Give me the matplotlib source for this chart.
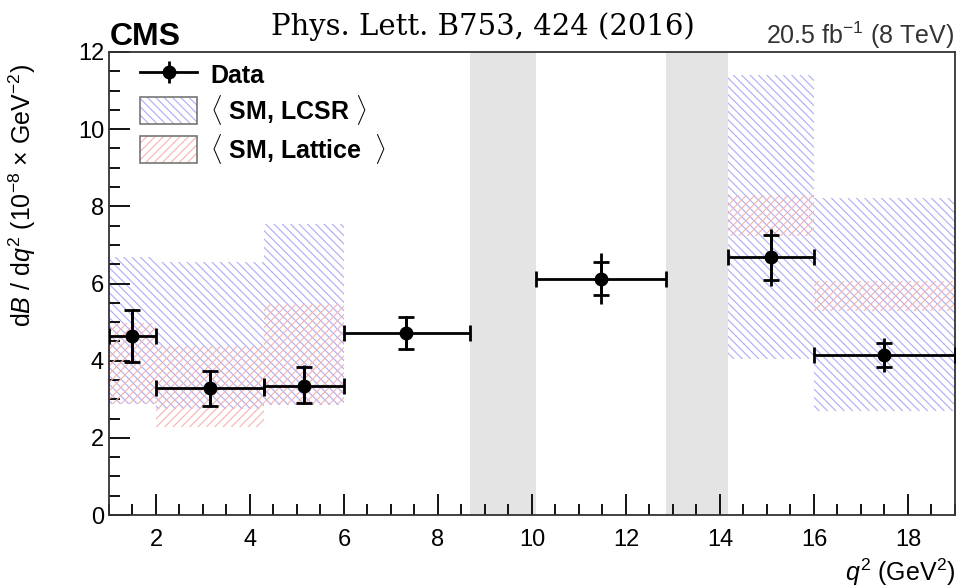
import matplotlib
matplotlib.use("Agg")
import matplotlib.pyplot as plt
from matplotlib.patches import Rectangle
from matplotlib.lines import Line2D
from matplotlib.ticker import MultipleLocator

plt.rcParams['font.family'] = ['Liberation Sans', 'DejaVu Sans']
plt.rcParams['mathtext.fontset'] = 'custom'
plt.rcParams['mathtext.rm'] = 'Liberation Sans'
plt.rcParams['mathtext.it'] = 'Liberation Sans:italic'
plt.rcParams['hatch.linewidth'] = 0.8

# Data: q^2 bins and measured dB/dq^2 (10^-8 GeV^-2)
bin_lo = [1.0, 2.0, 4.3, 6.0, 10.09, 14.18, 16.0]
bin_hi = [2.0, 4.3, 6.0, 8.68, 12.86, 16.0, 19.0]
q2_center = [1.50, 3.15, 5.14, 7.33, 11.47, 15.09, 17.49]
dbdq2 = [4.63, 3.29, 3.35, 4.71, 6.13, 6.68, 4.15]
stat_up = [0.68, 0.45, 0.50, 0.43, 0.43, 0.59, 0.31]
stat_dn = [0.67, 0.47, 0.45, 0.41, 0.43, 0.60, 0.30]
tot_up = [0.72, 0.48, 0.53, 0.46, 0.66, 0.74, 0.43]
tot_dn = [0.70, 0.50, 0.48, 0.44, 0.67, 0.74, 0.43]

# SM predictions (LCSR and lattice), min/max of band
sm_lo_edge = [1.0, 2.0, 4.3, 14.18, 16.0]
sm_hi_edge = [2.0, 4.3, 6.0, 16.0, 19.0]
lcsr_min = [2.88, 2.75, 2.84, 4.05, 2.71]
lcsr_max = [6.70, 6.55, 7.53, 11.41, 8.21]
latt_min = [2.89, 2.28, 2.84, 7.23, 5.29]
latt_max = [4.99, 4.39, 5.47, 8.30, 6.06]

# vetoed charmonium regions
veto_lo = [8.68, 12.86]
veto_hi = [10.09, 14.18]

blue_hatch = '#acacf6'
red_hatch = '#f6b2b2'

fig = plt.figure(figsize=(9.66, 5.88), dpi=100)
ax = fig.add_axes([0.1128, 0.124, 0.8758, 0.7876])

for lo, hi in zip(veto_lo, veto_hi):
    ax.axvspan(lo, hi, color='#e4e4e4', lw=0, zorder=0)

widths = [h - l for l, h in zip(sm_lo_edge, sm_hi_edge)]
ax.bar(sm_lo_edge, [b - a for a, b in zip(lcsr_min, lcsr_max)], width=widths,
       bottom=lcsr_min, align='edge', facecolor='none', edgecolor=blue_hatch,
       hatch='\\\\\\\\', lw=0, zorder=1)
ax.bar(sm_lo_edge, [b - a for a, b in zip(latt_min, latt_max)], width=widths,
       bottom=latt_min, align='edge', facecolor='none', edgecolor=red_hatch,
       hatch='////', lw=0, zorder=2)

xerr_lo = [c - l for c, l in zip(q2_center, bin_lo)]
xerr_hi = [h - c for c, h in zip(q2_center, bin_hi)]

# total uncertainty (no caps)
ax.errorbar(q2_center, dbdq2, yerr=[tot_dn, tot_up], fmt='none', ecolor='black',
            elinewidth=2, capsize=0, zorder=4)
# statistical uncertainty with caps
ax.errorbar(q2_center, dbdq2, yerr=[stat_dn, stat_up], fmt='none', ecolor='black',
            elinewidth=2, capsize=6, capthick=2, zorder=4)
# bin widths
ax.errorbar(q2_center, dbdq2, xerr=[xerr_lo, xerr_hi], fmt='o', color='black',
            markersize=9, elinewidth=2, capsize=6, capthick=2, zorder=5)

ax.set_xlim(1, 19)
ax.set_ylim(0, 12)
ax.xaxis.set_major_locator(MultipleLocator(2))
ax.xaxis.set_minor_locator(MultipleLocator(0.5))
ax.yaxis.set_major_locator(MultipleLocator(2))
ax.yaxis.set_minor_locator(MultipleLocator(0.5))
ax.tick_params(which='both', direction='in', labelsize=17, width=1.3)
ax.tick_params(which='major', length=15)
ax.tick_params(which='minor', length=8)
ax.tick_params(axis='x', pad=10)
for s in ax.spines.values():
    s.set_linewidth(1.3)
    s.set_color('#333333')

ax.set_ylabel(r"d$\mathit{B}$ / d$\mathit{q}^2$ (10$^{-8}$ $\times$ GeV$^{-2}$)", fontsize=18)
ax.yaxis.set_label_coords(-0.084, 0.69, transform=ax.transAxes)
ax.set_xlabel(r"$\mathit{q}^2$ (GeV$^2$)", fontsize=18, loc='right', labelpad=4)

fig.text(0.114, 0.923, "CMS", fontsize=23, fontweight='bold', ha='left', va='baseline')
fig.text(0.50, 0.940, "Phys. Lett. B753, 424 (2016)", fontsize=21,
         family=['DejaVu Serif'], ha='center', va='baseline')
fig.text(0.988, 0.925, r"20.5 fb$^{-1}$ (8 TeV)", fontsize=18, color='#333333',
         ha='right', va='baseline')

frame = dict(facecolor='none', edgecolor='#777777', lw=1.2)
h_data = (Line2D([], [], color='black', lw=2, marker='o', markersize=9),
          Line2D([], [], color='black', lw=0, marker='|', markersize=16, markeredgewidth=2))
h_lcsr = (Rectangle((0, 0), 1, 1, facecolor='none', edgecolor=blue_hatch, hatch='\\\\\\\\', lw=0),
          Rectangle((0, 0), 1, 1, **frame))
h_latt = (Rectangle((0, 0), 1, 1, facecolor='none', edgecolor=red_hatch, hatch='////', lw=0),
          Rectangle((0, 0), 1, 1, **frame))
ax.legend([h_data, h_lcsr, h_latt],
          ["Data", r"$\langle$ SM, LCSR $\rangle$", r"$\langle$ SM, Lattice  $\rangle$"],
          loc='upper left', bbox_to_anchor=(0.01, 1.03), frameon=False,
          prop={'size': 18, 'weight': 'bold'}, handlelength=2.3, handleheight=1.3,
          labelspacing=0.2, handletextpad=0.5)

fig.savefig("out.png", dpi=100)
